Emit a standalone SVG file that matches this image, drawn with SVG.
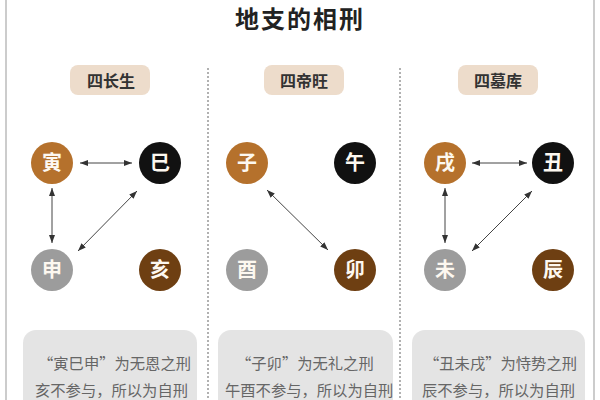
<svg xmlns="http://www.w3.org/2000/svg" width="600" height="400" viewBox="0 0 600 400">
<defs>
<style>
.title{font-family:"Noto Sans CJK SC","Noto Sans",sans-serif;font-size:24px;font-weight:bold;fill:#222;letter-spacing:2px}
.pill{fill:#eddccb}
.pt{font-family:"Noto Sans CJK SC",sans-serif;font-size:16px;font-weight:bold;fill:#333;text-anchor:middle}
.ct{font-family:"Noto Sans CJK SC",sans-serif;font-size:20px;font-weight:bold;fill:#fdf8f0;text-anchor:middle}
.orange{fill:#b5712c}
.black{fill:#111}
.gray{fill:#9c9c9c}
.brown{fill:#6e3f12}
.box{fill:#e4e4e4}
.bt{font-family:"Noto Sans CJK SC",sans-serif;font-size:15.3px;fill:#666}
.div{stroke:#888;stroke-width:1.3;stroke-dasharray:2 2}
.frame{stroke:#bbb;stroke-width:1.5}
.arr{stroke:#444;stroke-width:1;fill:none;marker-start:url(#ah);marker-end:url(#ah)}
</style>
<marker id="ah" viewBox="0 0 8 6" refX="8" refY="3" markerWidth="8" markerHeight="6" markerUnits="userSpaceOnUse" orient="auto-start-reverse">
<path d="M0,0 L8,3 L0,6 z" fill="#333"/>
</marker>
</defs>
<rect width="600" height="400" fill="#fff"/>
<line class="frame" x1="6" y1="0" x2="6" y2="400"/>
<line class="frame" x1="594" y1="0" x2="594" y2="400"/>
<text class="title" x="300" y="28" text-anchor="middle">地支的相刑</text>
<line class="div" x1="208" y1="68" x2="208" y2="400"/>
<line class="div" x1="400" y1="68" x2="400" y2="400"/>

<g id="sec1">
<rect class="pill" x="70" y="65" width="80" height="30" rx="8"/>
<text class="pt" x="111" y="87">四长生</text>
</g>
<g id="sec2">
<rect class="pill" x="264" y="65" width="80" height="30" rx="8"/>
<text class="pt" x="304" y="87">四帝旺</text>
</g>
<g id="sec3">
<rect class="pill" x="458" y="65" width="80" height="30" rx="8"/>
<text class="pt" x="498" y="87">四墓库</text>
</g>

<g id="yin"><circle class="orange" cx="52" cy="163" r="21"/><text class="ct" x="52" y="170">寅</text></g>
<g id="si"><circle class="black" cx="160" cy="163" r="21"/><text class="ct" x="160" y="170">巳</text></g>
<g id="shen"><circle class="gray" cx="52" cy="270" r="21"/><text class="ct" x="52" y="277">申</text></g>
<g id="hai"><circle class="brown" cx="160" cy="270" r="21"/><text class="ct" x="160" y="277">亥</text></g>

<g id="zi"><circle class="orange" cx="247" cy="163" r="21"/><text class="ct" x="247" y="170">子</text></g>
<g id="wu"><circle class="black" cx="355" cy="163" r="21"/><text class="ct" x="355" y="170">午</text></g>
<g id="you"><circle class="gray" cx="247" cy="270" r="21"/><text class="ct" x="247" y="277">酉</text></g>
<g id="mao"><circle class="brown" cx="355" cy="270" r="21"/><text class="ct" x="355" y="277">卯</text></g>

<g id="xu"><circle class="orange" cx="445" cy="163" r="21"/><text class="ct" x="445" y="170">戌</text></g>
<g id="chou"><circle class="black" cx="553" cy="163" r="21"/><text class="ct" x="553" y="170">丑</text></g>
<g id="wei"><circle class="gray" cx="445" cy="270" r="21"/><text class="ct" x="445" y="277">未</text></g>
<g id="chen"><circle class="brown" cx="553" cy="270" r="21"/><text class="ct" x="553" y="277">辰</text></g>

<g id="connectors">
<line class="arr" x1="80" y1="163" x2="132" y2="163"/>
<line class="arr" x1="52" y1="188" x2="52" y2="243"/>
<line class="arr" x1="137" y1="191" x2="78" y2="251"/>
<line class="arr" x1="267" y1="190" x2="328" y2="250"/>
<line class="arr" x1="472" y1="163" x2="527" y2="163"/>
<line class="arr" x1="445" y1="188" x2="445" y2="243"/>
<line class="arr" x1="532" y1="191" x2="472" y2="251"/>
</g>

<g id="note1">
<rect class="box" x="23" y="330" width="174" height="90" rx="13"/>
<text class="bt" x="38" y="369">“寅巳申”为无恩之刑</text>
<text class="bt" x="35" y="396">亥不参与，所以为自刑</text>
</g>
<g id="note2">
<rect class="box" x="218" y="330" width="175" height="90" rx="13"/>
<text class="bt" x="236" y="369">“子卯”为无礼之刑</text>
<text class="bt" x="225" y="396">午酉不参与，所以为自刑</text>
</g>
<g id="note3">
<rect class="box" x="412" y="330" width="173" height="90" rx="13"/>
<text class="bt" x="424" y="369">“丑未戌”为恃势之刑</text>
<text class="bt" x="422" y="396">辰不参与，所以为自刑</text>
</g>
</svg>
